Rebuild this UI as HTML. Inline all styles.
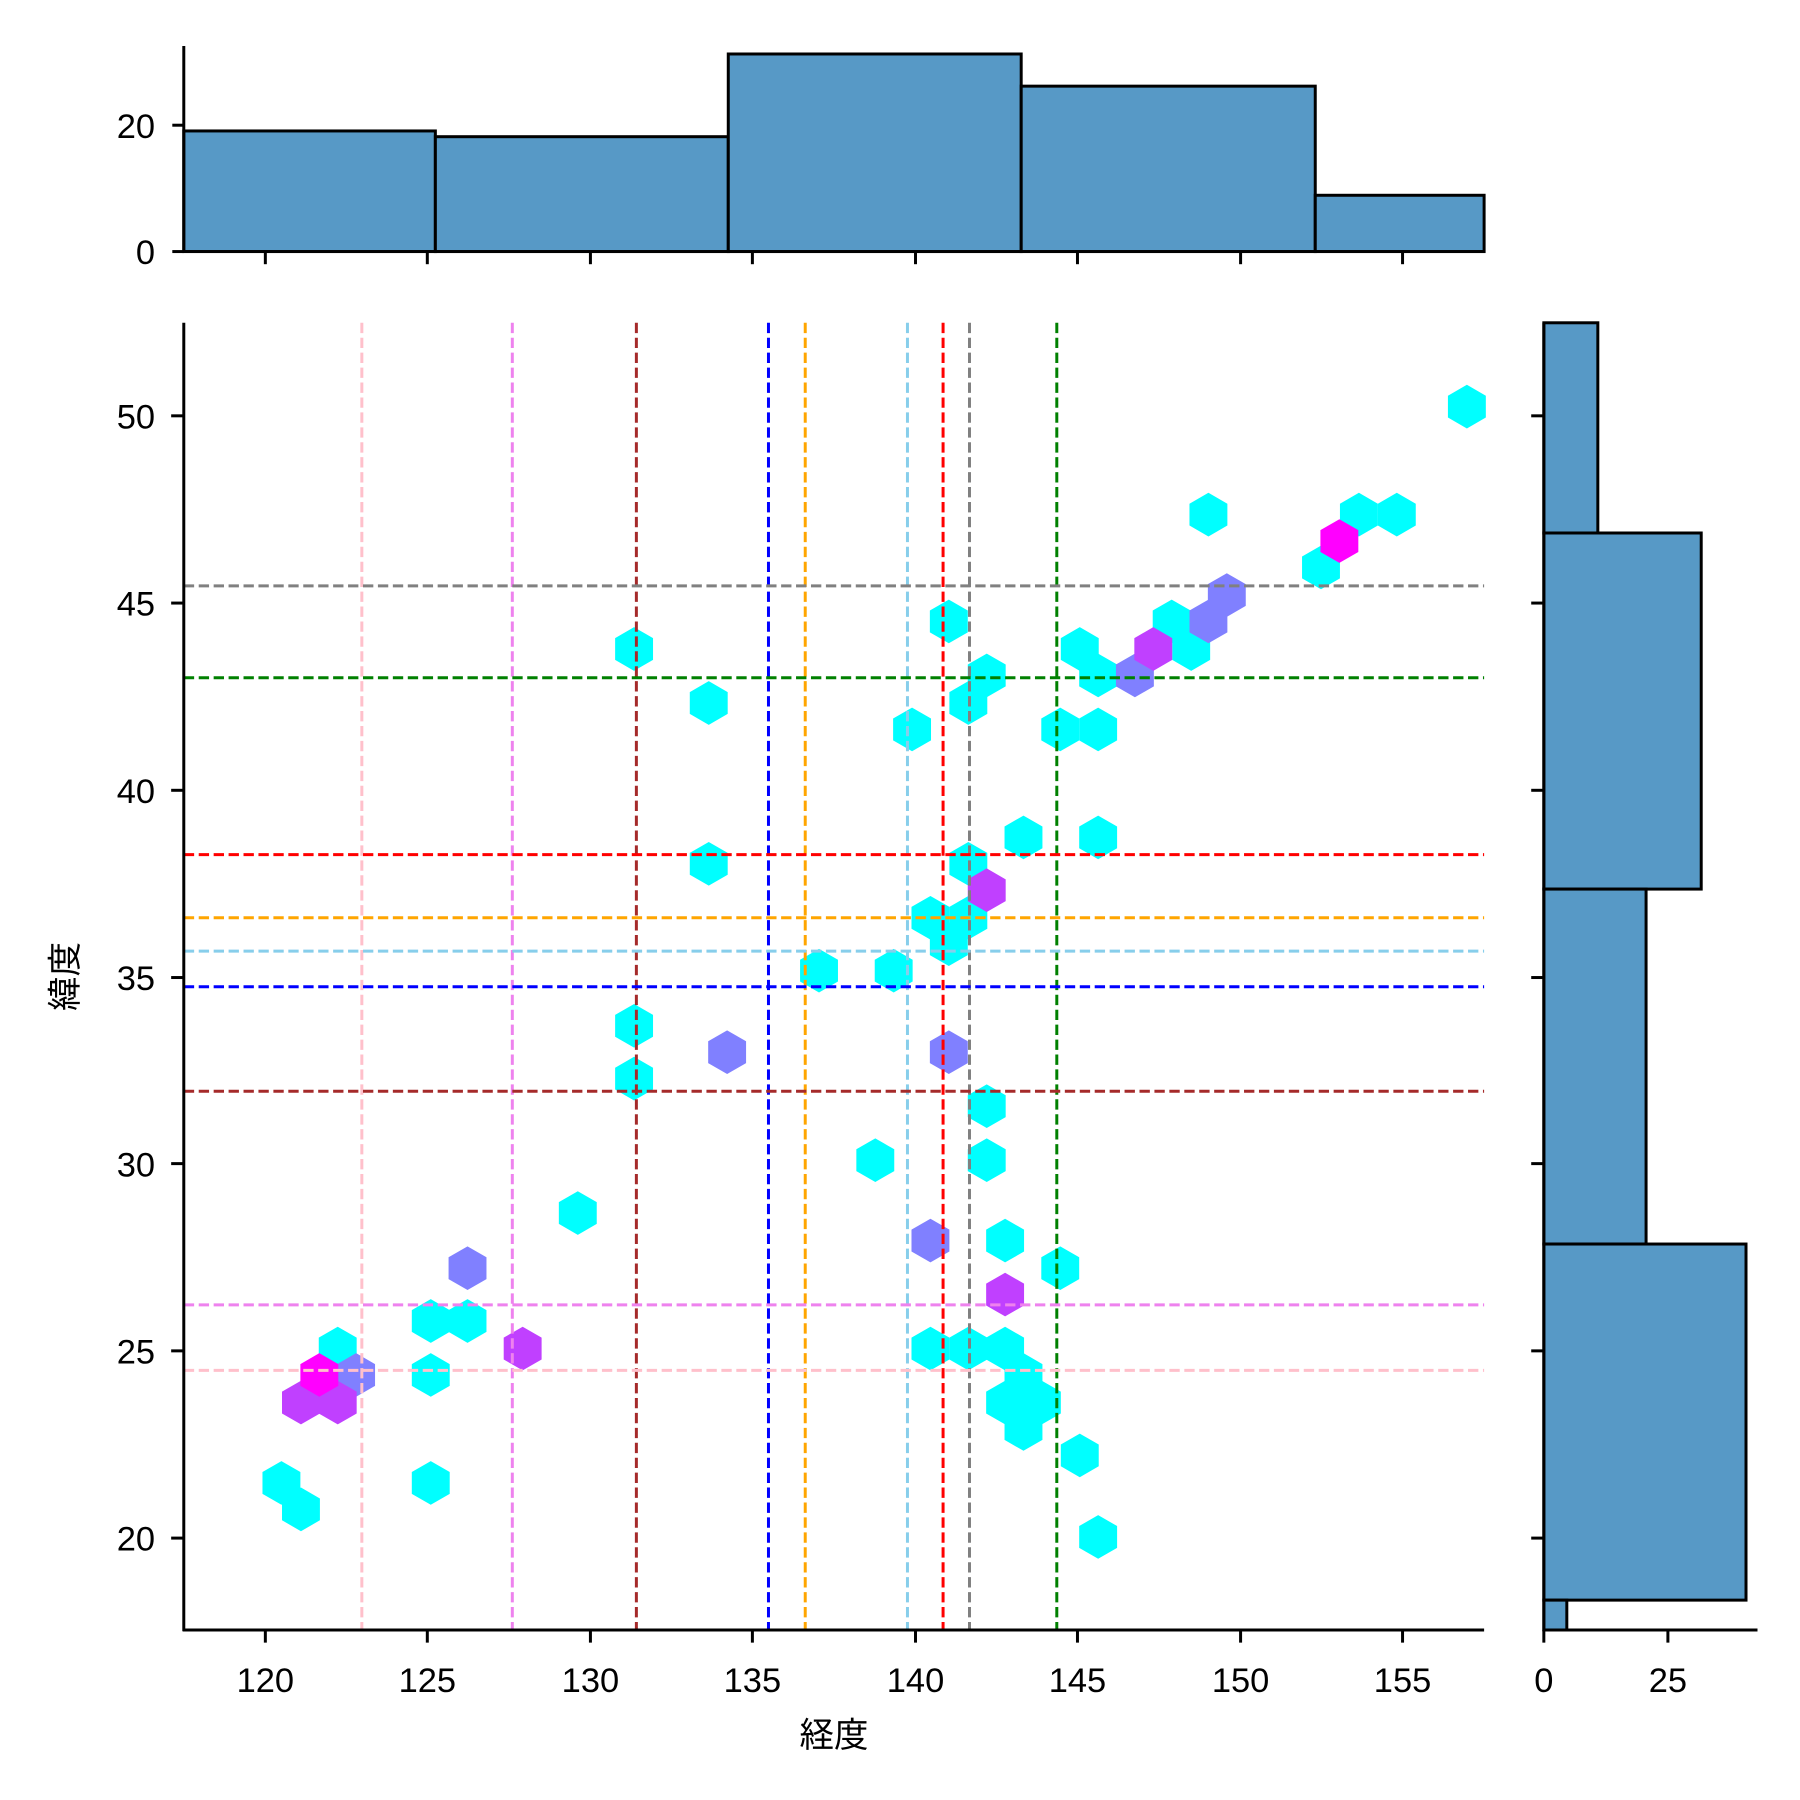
<!DOCTYPE html>
<html><head><meta charset="utf-8"><style>html,body{margin:0;padding:0;background:#fff}svg{display:block}</style></head><body>
<svg width="1800" height="1800" viewBox="0 0 1567 1567" xmlns="http://www.w3.org/2000/svg" font-family="Liberation Sans, Noto Sans CJK JP, sans-serif">
<defs><polygon id="h" points="0,-19 16.5,-9.5 16.5,9.5 0,19 -16.5,9.5 -16.5,-9.5"/></defs>
<!-- top histogram -->
<g fill="#5799c6" stroke="#000" stroke-width="2.6">
<rect x="160" y="114" width="219" height="105"/>
<rect x="379" y="119" width="255" height="100"/>
<rect x="634" y="47" width="255" height="172"/>
<rect x="889" y="75" width="256" height="144"/>
<rect x="1145" y="170" width="147" height="49"/>
</g>
<g stroke="#000" stroke-width="2.6">
<line x1="160" y1="40" x2="160" y2="220"/><line x1="159" y1="219" x2="1292" y2="219"/>
<line x1="150" y1="219" x2="160" y2="219"/><line x1="150" y1="109" x2="160" y2="109"/>
<line x1="231" y1="219" x2="231" y2="230"/><line x1="372" y1="219" x2="372" y2="230"/><line x1="514" y1="219" x2="514" y2="230"/><line x1="655" y1="219" x2="655" y2="230"/><line x1="797" y1="219" x2="797" y2="230"/><line x1="938" y1="219" x2="938" y2="230"/><line x1="1080" y1="219" x2="1080" y2="230"/><line x1="1221" y1="219" x2="1221" y2="230"/>
</g>
<g font-size="30" text-anchor="end"><text x="135" y="230">0</text><text x="135" y="120">20</text></g>
<!-- right histogram -->
<g fill="#5799c6" stroke="#000" stroke-width="2.6">
<rect x="1344" y="281" width="47" height="183"/>
<rect x="1344" y="464" width="137" height="310"/>
<rect x="1344" y="774" width="89" height="309"/>
<rect x="1344" y="1083" width="176" height="310"/>
<rect x="1344" y="1393" width="20" height="26"/>
</g>
<g stroke="#000" stroke-width="2.6">
<line x1="1344" y1="281" x2="1344" y2="1420"/><line x1="1343" y1="1419" x2="1530" y2="1419"/>
<line x1="1344" y1="1419" x2="1344" y2="1430"/><line x1="1452" y1="1419" x2="1452" y2="1430"/>
<line x1="1333" y1="1339" x2="1344" y2="1339"/><line x1="1333" y1="1176" x2="1344" y2="1176"/><line x1="1333" y1="1013" x2="1344" y2="1013"/><line x1="1333" y1="851" x2="1344" y2="851"/><line x1="1333" y1="688" x2="1344" y2="688"/><line x1="1333" y1="525" x2="1344" y2="525"/><line x1="1333" y1="362" x2="1344" y2="362"/>
</g>
<g font-size="30" text-anchor="middle"><text x="1344" y="1473">0</text><text x="1452" y="1473">25</text></g>
<!-- hexbins -->
<g fill="#00ffff">
<use href="#h" x="1277" y="354"/><use href="#h" x="1052" y="448"/><use href="#h" x="1183" y="448"/><use href="#h" x="1216" y="448"/><use href="#h" x="1150" y="494"/><use href="#h" x="826" y="541"/><use href="#h" x="552" y="565"/><use href="#h" x="1020" y="541"/><use href="#h" x="940" y="565"/><use href="#h" x="1037" y="565"/><use href="#h" x="956" y="588"/><use href="#h" x="859" y="588"/><use href="#h" x="617" y="612"/><use href="#h" x="843" y="612"/><use href="#h" x="794" y="635"/><use href="#h" x="923" y="635"/><use href="#h" x="956" y="635"/><use href="#h" x="891" y="729"/><use href="#h" x="956" y="729"/><use href="#h" x="843" y="752"/><use href="#h" x="617" y="752"/><use href="#h" x="810" y="799"/><use href="#h" x="843" y="799"/><use href="#h" x="826" y="822"/><use href="#h" x="713" y="845"/><use href="#h" x="778" y="845"/><use href="#h" x="552" y="893"/><use href="#h" x="552" y="939"/><use href="#h" x="859" y="963"/><use href="#h" x="859" y="1010"/><use href="#h" x="762" y="1010"/><use href="#h" x="503" y="1056"/><use href="#h" x="875" y="1080"/><use href="#h" x="923" y="1104"/><use href="#h" x="294" y="1174"/><use href="#h" x="375" y="1150"/><use href="#h" x="407" y="1150"/><use href="#h" x="375" y="1197"/><use href="#h" x="810" y="1174"/><use href="#h" x="843" y="1174"/><use href="#h" x="875" y="1174"/><use href="#h" x="891" y="1197"/><use href="#h" x="875" y="1221"/><use href="#h" x="907" y="1221"/><use href="#h" x="891" y="1244"/><use href="#h" x="940" y="1267"/><use href="#h" x="245" y="1291"/><use href="#h" x="262" y="1314"/><use href="#h" x="375" y="1291"/><use href="#h" x="956" y="1338"/>
</g>
<g fill="#8080ff">
<use href="#h" x="1068" y="518"/><use href="#h" x="1052" y="541"/><use href="#h" x="988" y="588"/><use href="#h" x="633" y="916"/><use href="#h" x="826" y="916"/><use href="#h" x="810" y="1080"/><use href="#h" x="407" y="1104"/><use href="#h" x="310" y="1197"/>
</g>
<g fill="#c040ff">
<use href="#h" x="1004" y="565"/><use href="#h" x="859" y="775"/><use href="#h" x="875" y="1127"/><use href="#h" x="455" y="1174"/><use href="#h" x="262" y="1221"/><use href="#h" x="294" y="1221"/>
</g>
<g fill="#ff00ff"><use href="#h" x="1166" y="471"/><use href="#h" x="278" y="1197"/></g>
<!-- dashed lines -->
<g stroke-width="2.6" stroke-dasharray="9,4" fill="none">
<line x1="315" y1="281" x2="315" y2="1419" stroke="pink"/>
<line x1="446" y1="281" x2="446" y2="1419" stroke="violet"/>
<line x1="554" y1="281" x2="554" y2="1419" stroke="brown"/>
<line x1="669" y1="281" x2="669" y2="1419" stroke="blue"/>
<line x1="701" y1="281" x2="701" y2="1419" stroke="orange"/>
<line x1="790" y1="281" x2="790" y2="1419" stroke="skyblue"/>
<line x1="821" y1="281" x2="821" y2="1419" stroke="red"/>
<line x1="844" y1="281" x2="844" y2="1419" stroke="gray"/>
<line x1="920" y1="281" x2="920" y2="1419" stroke="green"/>
<line x1="160" y1="510" x2="1292" y2="510" stroke="gray"/>
<line x1="160" y1="590" x2="1292" y2="590" stroke="green"/>
<line x1="160" y1="744" x2="1292" y2="744" stroke="red"/>
<line x1="160" y1="799" x2="1292" y2="799" stroke="orange"/>
<line x1="160" y1="828" x2="1292" y2="828" stroke="skyblue"/>
<line x1="160" y1="859" x2="1292" y2="859" stroke="blue"/>
<line x1="160" y1="950" x2="1292" y2="950" stroke="brown"/>
<line x1="160" y1="1136" x2="1292" y2="1136" stroke="violet"/>
<line x1="160" y1="1193" x2="1292" y2="1193" stroke="pink"/>
</g>
<!-- main axes -->
<g stroke="#000" stroke-width="2.6">
<line x1="160" y1="281" x2="160" y2="1420"/><line x1="159" y1="1419" x2="1292" y2="1419"/>
<line x1="149" y1="1339" x2="160" y2="1339"/><line x1="149" y1="1176" x2="160" y2="1176"/><line x1="149" y1="1013" x2="160" y2="1013"/><line x1="149" y1="851" x2="160" y2="851"/><line x1="149" y1="688" x2="160" y2="688"/><line x1="149" y1="525" x2="160" y2="525"/><line x1="149" y1="362" x2="160" y2="362"/>
<line x1="231" y1="1419" x2="231" y2="1430"/><line x1="372" y1="1419" x2="372" y2="1430"/><line x1="514" y1="1419" x2="514" y2="1430"/><line x1="655" y1="1419" x2="655" y2="1430"/><line x1="797" y1="1419" x2="797" y2="1430"/><line x1="938" y1="1419" x2="938" y2="1430"/><line x1="1080" y1="1419" x2="1080" y2="1430"/><line x1="1221" y1="1419" x2="1221" y2="1430"/>
</g>
<g font-size="30" text-anchor="end">
<text x="135" y="1350">20</text><text x="135" y="1187">25</text><text x="135" y="1024">30</text><text x="135" y="862">35</text><text x="135" y="699">40</text><text x="135" y="536">45</text><text x="135" y="373">50</text>
</g>
<g font-size="30" text-anchor="middle">
<text x="231" y="1473">120</text><text x="372" y="1473">125</text><text x="514" y="1473">130</text><text x="655" y="1473">135</text><text x="797" y="1473">140</text><text x="938" y="1473">145</text><text x="1080" y="1473">150</text><text x="1221" y="1473">155</text>
</g>
<text x="726" y="1521" font-size="30" text-anchor="middle">経度</text>
<text transform="translate(67,850) rotate(-90)" font-size="30" text-anchor="middle">緯度</text>
</svg>
</body></html>
